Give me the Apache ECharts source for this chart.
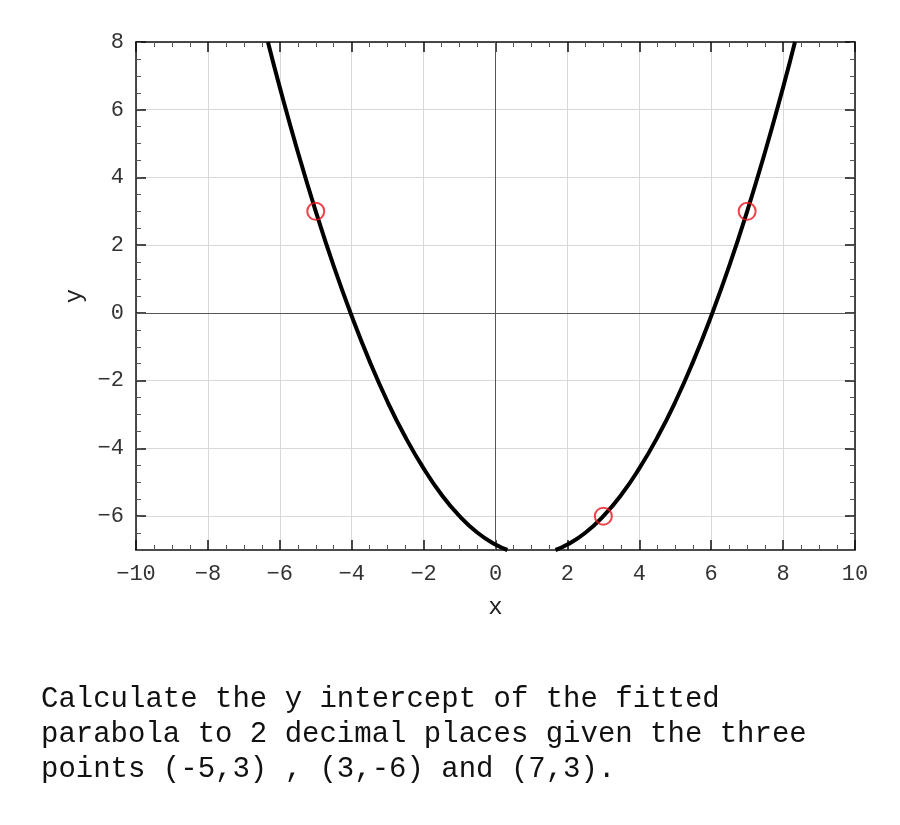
<!DOCTYPE html>
<html>
<head>
<meta charset="utf-8">
<script src="https://cdn.jsdelivr.net/npm/echarts@6/dist/echarts.min.js"></script>
<style>html,body{margin:0;padding:0;background:#fff;}#c{width:900px;height:825px;}</style>
</head>
<body>
<div id="c"></div>
<script>
// Curve (two visible pieces, broken where it leaves the bottom of the frame)
const curveLeft = [[-6.33,8.0],[-6,6.66],[-5.5,4.76],[-5,3.0],[-4.5,1.38],[-4,-0.09],[-3.5,-1.43],[-3,-2.63],[-2.5,-3.68],[-2,-4.59],[-1.5,-5.37],[-1,-6.0],[-0.5,-6.49],[0,-6.84],[0.33,-7.0]];
const curveRight = [[1.67,-7.0],[2,-6.84],[2.5,-6.49],[3,-6.0],[3.5,-5.37],[4,-4.59],[4.5,-3.68],[5,-2.63],[5.5,-1.43],[6,-0.09],[6.5,1.38],[7,3.0],[7.5,4.76],[8,6.66],[8.33,8.0]];
const givenPoints = [[-5,3],[3,-6],[7,3]];
const xRange = [-10, 10];
const yRange = [-7, 8];
const yTickValues = [-6, -4, -2, 0, 2, 4, 6, 8];
const questionLines = [
  'Calculate the y intercept of the fitted',
  'parabola to 2 decimal places given the three',
  'points (-5,3) , (3,-6) and (7,3).'
];

const fmt = v => (v < 0 ? '\u2212' + Math.abs(v) : String(v));
const tickFont = {fontFamily: 'Liberation Mono', fontSize: 22, color: '#333', formatter: fmt};
const axisLine = {show: true, onZero: false, lineStyle: {color: '#111', width: 1.5}};
const majorTick = {show: true, inside: true, length: 10, lineStyle: {color: '#111', width: 1.5}};
const minorTick = {show: true, splitNumber: 4, length: 5, lineStyle: {color: '#555', width: 1}};
const minorOnly = {show: true, inside: true, length: 5, lineStyle: {color: '#555', width: 1}};
const nameFont = {fontFamily: 'Liberation Mono', fontSize: 24, color: '#222'};

const chart = echarts.init(document.getElementById('c'));
chart.setOption({
  animation: false,
  backgroundColor: '#fff',
  title: {
    text: questionLines.join('\n'),
    left: 36, top: 677,
    textStyle: {fontFamily: 'Liberation Mono', fontSize: 29, lineHeight: 35, fontWeight: 'normal', color: '#111'}
  },
  grid: {left: 136, right: 45, top: 42, bottom: 275},
  xAxis: [{
    type: 'value', min: xRange[0], max: xRange[1], interval: 2,
    name: 'x', nameLocation: 'middle', nameGap: 46, nameTextStyle: nameFont,
    axisLine: axisLine, axisTick: majorTick, minorTick: minorTick,
    axisLabel: Object.assign({margin: 13}, tickFont),
    splitLine: {show: true, lineStyle: {color: '#d9d9d9', width: 1}}
  }, {
    type: 'value', min: xRange[0], max: xRange[1], interval: 2, position: 'top',
    axisLine: axisLine, axisTick: majorTick, minorTick: minorTick,
    axisLabel: {show: false}, splitLine: {show: false}
  }],
  yAxis: [{
    type: 'value', min: yRange[0], max: yRange[1], interval: 1,
    name: 'y', nameLocation: 'middle', nameGap: 45, nameTextStyle: nameFont,
    axisLine: axisLine,
    axisTick: Object.assign({customValues: yTickValues}, majorTick),
    axisLabel: Object.assign({margin: 12, customValues: yTickValues}, tickFont),
    splitLine: {show: true, lineStyle: {color: '#d9d9d9', width: 1}}
  }, {
    type: 'value', min: yRange[0], max: yRange[1], interval: 1, position: 'right',
    axisLine: axisLine,
    axisTick: Object.assign({customValues: yTickValues}, majorTick),
    axisLabel: {show: false}, splitLine: {show: false}
  }, {
    type: 'value', min: yRange[0], max: yRange[1], interval: 0.5, position: 'left',
    axisLine: {show: false, onZero: false}, axisTick: minorOnly,
    axisLabel: {show: false}, splitLine: {show: false}
  }, {
    type: 'value', min: yRange[0], max: yRange[1], interval: 0.5, position: 'right',
    axisLine: {show: false, onZero: false}, axisTick: minorOnly,
    axisLabel: {show: false}, splitLine: {show: false}
  }],
  series: [{
    type: 'line', data: curveLeft, smooth: true, showSymbol: false, symbol: 'none', clip: true,
    lineStyle: {color: '#000', width: 4}, z: 3,
    markLine: {
      silent: true, symbol: 'none', label: {show: false},
      lineStyle: {color: '#555', width: 1, type: 'solid'},
      data: [{xAxis: 0}, {yAxis: 0}], z: 1
    }
  }, {
    type: 'line', data: curveRight, smooth: true, showSymbol: false, symbol: 'none', clip: true,
    lineStyle: {color: '#000', width: 4}, z: 3
  }, {
    type: 'scatter', data: givenPoints, symbol: 'circle', symbolSize: 17,
    itemStyle: {color: 'rgba(0,0,0,0)', borderColor: '#e8141c', borderWidth: 2}, z: 5
  }]
});
</script>
</body>
</html>
